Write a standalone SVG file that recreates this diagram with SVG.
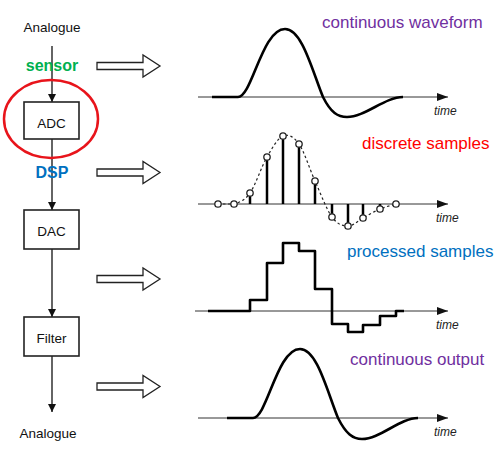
<svg xmlns="http://www.w3.org/2000/svg" xmlns:xlink="http://www.w3.org/1999/xlink" width="499" height="450" viewBox="0 0 499 450">
<style>
.lbl{font-family:"Liberation Sans",Arial,sans-serif;font-size:13.5px;fill:#111;text-anchor:middle}
.box{fill:#fff;stroke:#222;stroke-width:1.6}
.flow{stroke:#111;stroke-width:1.3;fill:none}
.hollow{fill:#fff;stroke:#222;stroke-width:1.3}
.axis{stroke:#333;stroke-width:1;fill:none}
.wave{stroke:#000;stroke-width:2.6;fill:none;stroke-linejoin:round}
.time{font-family:"Liberation Sans",Arial,sans-serif;font-style:italic;font-size:12px;fill:#222}
.cap{font-family:"Liberation Sans",Arial,sans-serif;font-size:17px}
.samp{fill:#fff;stroke:#222;stroke-width:1.3}
</style>
<defs>
<marker id="ah" viewBox="0 0 10 10" refX="10" refY="5" markerWidth="8" markerHeight="10" markerUnits="userSpaceOnUse" orient="auto"><path d="M0,0 L10,5 L0,10 Z" fill="#111"/></marker>
<marker id="ax" viewBox="0 0 10 10" refX="10" refY="5" markerWidth="11" markerHeight="8" markerUnits="userSpaceOnUse" orient="auto" preserveAspectRatio="none"><path d="M0,0 L10,5 L0,10 Z" fill="#111"/></marker>
<polygon id="harrow" class="hollow" points="97,62.5 143,62.5 143,55 160,66 143,77 143,69.5 97,69.5"/>
</defs>

<g id="connectors">
<line class="flow" x1="52" y1="46" x2="52" y2="102" marker-end="url(#ah)"/>
<line class="flow" x1="52" y1="139" x2="52" y2="210" marker-end="url(#ah)"/>
<line class="flow" x1="52" y1="249" x2="52" y2="317" marker-end="url(#ah)"/>
<line class="flow" x1="52" y1="356" x2="52" y2="412" marker-end="url(#ah)"/>
<use xlink:href="#harrow"/>
<use xlink:href="#harrow" transform="translate(0,106.5)"/>
<use xlink:href="#harrow" transform="translate(0,213)"/>
<use xlink:href="#harrow" transform="translate(0,320.5)"/>
</g>

<g id="analogue-in"><text class="lbl" x="52" y="32">Analogue</text></g>
<g id="sensor"><text x="52" y="71" text-anchor="middle" font-family="Liberation Sans,Arial,sans-serif" font-weight="bold" font-size="16" fill="#00B050">sensor</text></g>
<g id="adc">
<rect class="box" x="24" y="102" width="55" height="37"/>
<text class="lbl" x="51.5" y="128">ADC</text>
<ellipse cx="51" cy="119" rx="47" ry="39" fill="none" stroke="#E8141B" stroke-width="2.5"/>
</g>
<g id="dsp"><text x="52" y="178" text-anchor="middle" font-family="Liberation Sans,Arial,sans-serif" font-weight="bold" font-size="16" fill="#0070C0">DSP</text></g>
<g id="dac">
<rect class="box" x="24" y="210" width="55" height="39"/>
<text class="lbl" x="51.5" y="236">DAC</text>
</g>
<g id="filter">
<rect class="box" x="24" y="317" width="55" height="39"/>
<text class="lbl" x="51.5" y="343">Filter</text>
</g>
<g id="analogue-out"><text class="lbl" x="48" y="438">Analogue</text></g>

<g id="wave1">
<line class="axis" x1="198" y1="97" x2="448" y2="97" marker-end="url(#ax)"/>
<path class="wave" d="M212,97 L238,97 C252,97 262,29 285,29 C302,29 312,70 323,97 C331,113 338,117 347,117 C365,117 385,97 403,97"/>
<text class="time" x="434" y="115">time</text>
<text class="cap" x="322" y="28" fill="#7030A0">continuous waveform</text>
</g>

<g id="wave2">
<line class="axis" x1="198" y1="204" x2="448" y2="204" marker-end="url(#ax)"/>
<path d="M218,204 C220.7,204 228.7,204 234,204 C239.3,202.2 244.5,200.8 250,193 C255.5,185.2 261.5,166.5 267,157 C272.5,147.5 277.7,138.2 283,136 C288.3,133.8 293.7,136.5 299,144 C304.3,151.5 309.5,168.8 315,181 C320.5,193.2 326.5,209.5 332,217 C337.5,224.5 342.8,226.2 348,226 C353.2,226.2 357.7,220.8 363,218 C368.3,215.2 374.5,211.3 380,209 C385.5,206.7 393.3,204.8 396,204" fill="none" stroke="#222" stroke-width="1.2" stroke-dasharray="2.5,2.5"/>
<g stroke="#000" stroke-width="2.5">
<line x1="250" y1="204" x2="250" y2="193"/>
<line x1="267" y1="204" x2="267" y2="157"/>
<line x1="283" y1="204" x2="283" y2="136"/>
<line x1="299" y1="204" x2="299" y2="144"/>
<line x1="315" y1="204" x2="315" y2="181"/>
<line x1="332" y1="204" x2="332" y2="217"/>
<line x1="348" y1="204" x2="348" y2="226"/>
<line x1="363" y1="204" x2="363" y2="218"/>
<line x1="380" y1="204" x2="380" y2="209"/>
</g>
<g class="samp">
<circle cx="218" cy="204" r="3.2"/><circle cx="234" cy="204" r="3.2"/><circle cx="250" cy="193" r="3.2"/>
<circle cx="267" cy="157" r="3.2"/><circle cx="283" cy="136" r="3.2"/><circle cx="299" cy="144" r="3.2"/>
<circle cx="315" cy="181" r="3.2"/><circle cx="332" cy="217" r="3.2"/><circle cx="348" cy="226" r="3.2"/>
<circle cx="363" cy="218" r="3.2"/><circle cx="380" cy="209" r="3.2"/><circle cx="396" cy="204" r="3.2"/>
</g>
<text class="time" x="436" y="222">time</text>
<text class="cap" x="362" y="149" fill="#FF0000">discrete samples</text>
</g>

<g id="wave3">
<line class="axis" x1="195" y1="311" x2="448" y2="311" marker-end="url(#ax)"/>
<path class="wave" d="M208,311 H250 V300 H267 V263 H283 V243 H299 V251 H315 V289 H332 V324 H348 V332 H363 V325 H380 V316 H396 V311 H404"/>
<text class="time" x="436" y="329">time</text>
<text class="cap" x="347" y="257" fill="#0070C0">processed samples</text>
</g>

<g id="wave4">
<line class="axis" x1="198" y1="418" x2="448" y2="418" marker-end="url(#ax)"/>
<path class="wave" transform="translate(15,321)" d="M212,97 L238,97 C252,97 262,28 285,28 C302,28 312,70 323,97 C331,113 338,118 347,118 C365,118 385,97 403,97"/>
<text class="time" x="434" y="436">time</text>
<text class="cap" x="350" y="365" fill="#7030A0">continuous output</text>
</g>
</svg>
